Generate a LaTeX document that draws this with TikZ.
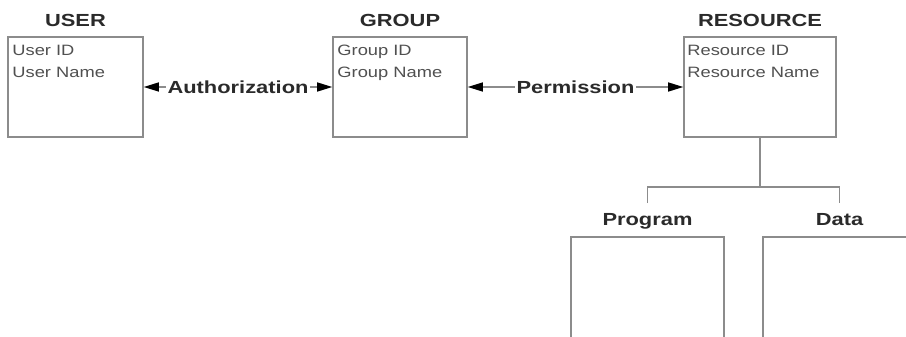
\documentclass[tikz,border=0pt]{standalone}
\usepackage{fontspec}
\setmainfont{Liberation Sans}
\usetikzlibrary{arrows.meta,calc}
\definecolor{boxgray}{HTML}{8C8C8C}
\definecolor{titlecol}{HTML}{2A2A2A}
\definecolor{fieldcol}{HTML}{505050}
\tikzset{
  entbox/.style={draw=boxgray, line width=1.6pt, fill=white, minimum width=135pt, minimum height=100pt, inner sep=0pt},
  titletext/.style={font=\fontsize{17.5}{21}\selectfont\bfseries, text=titlecol, xscale=1.25, inner sep=0pt, anchor=base},
  fieldtext/.style={font=\fontsize{15}{18}\selectfont, text=fieldcol, xscale=1.22, inner sep=0pt, anchor=base west},
  reltext/.style={font=\fontsize{17.5}{21}\selectfont\bfseries, text=titlecol, xscale=1.25, fill=white, inner sep=1.5pt},
  relline/.style={draw=boxgray, line width=1.4pt, {Triangle[length=15pt,width=9pt,fill=black,color=black]}-{Triangle[length=15pt,width=9pt,fill=black,color=black]}},
  treeline/.style={draw=boxgray, line width=1.6pt}
}
\begin{document}
\begin{tikzpicture}[x=1pt,y=-1pt]
\useasboundingbox (0,0) rectangle (906,337);
\clip (0,0) rectangle (906,337);
\fill[white] (0,0) rectangle (906,337);
% entity boxes
\node[entbox] (user) at (75.5,87) {};
\node[entbox, minimum width=134pt] (group) at (400,87) {};
\node[entbox, minimum width=152pt] (res) at (760,87) {};
% titles
\node[titletext] (usert) at ($(user.north)+(0,-10)$) {USER};
\node[titletext] (groupt) at ($(group.north)+(0,-10)$) {GROUP};
\node[titletext] (rest) at ($(res.north)+(0,-10)$) {RESOURCE};
% fields
\node[fieldtext] (u1) at ($(user.north west)+(5,19)$) {User ID};
\node[fieldtext] (u2) at ($(user.north west)+(5,41)$) {User Name};
\node[fieldtext] (g1) at ($(group.north west)+(5,19)$) {Group ID};
\node[fieldtext] (g2) at ($(group.north west)+(5,41)$) {Group Name};
\node[fieldtext] (r1) at ($(res.north west)+(4,19)$) {Resource ID};
\node[fieldtext] (r2) at ($(res.north west)+(4,41)$) {Resource Name};
% relationships
\draw[relline] ($(user.east)+(0,0)$) -- node[reltext] (auth) {Authorization} ($(group.west)+(0,0)$);
\draw[relline] ($(group.east)+(0,0)$) -- node[reltext] (perm) {Permission} ($(res.west)+(0,0)$);
% subtypes
\node[entbox, minimum width=153pt, minimum height=160pt] (prog) at (647.5,317) {};
\node[entbox, minimum width=153pt, minimum height=160pt] (data) at (839.5,317) {};
\node[titletext] (progt) at ($(prog.north)+(0,-11)$) {Program};
\node[titletext] (datat) at ($(data.north)+(0,-11)$) {Data};
\coordinate (jn) at (760,187);
\coordinate (pl) at (647.5,203);
\coordinate (dl) at (839.5,203);
\draw[treeline] (res.south) -- (jn);
\draw[treeline] (pl) |- (jn) -| (dl);
\end{tikzpicture}
\end{document}
